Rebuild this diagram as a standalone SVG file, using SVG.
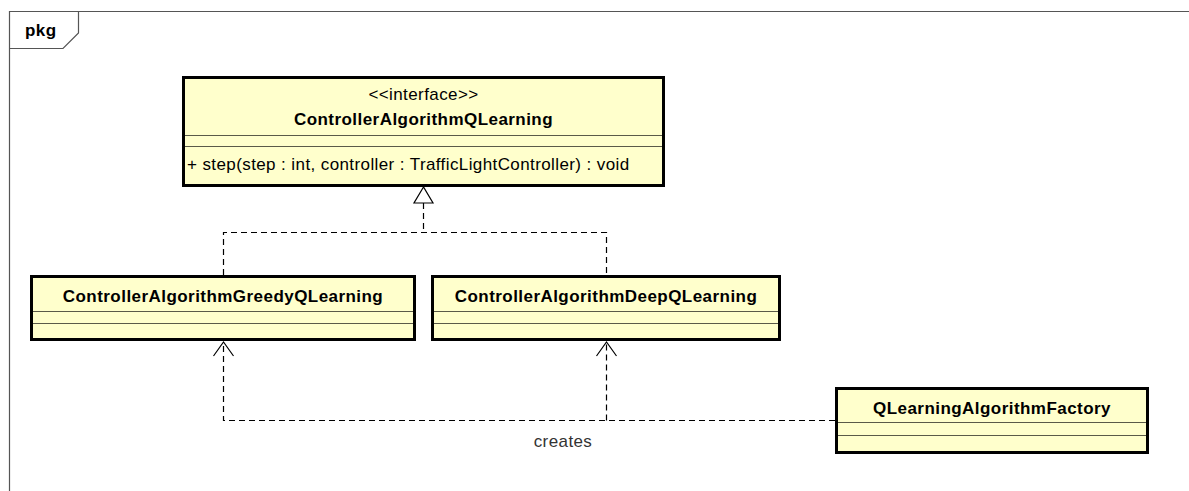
<svg xmlns="http://www.w3.org/2000/svg" width="1189" height="491" viewBox="0 0 1189 491">
  <style>
    .frame { fill: none; stroke: #555555; stroke-width: 1.2; }
    .cls { fill: #FFFFCC; stroke: #000000; stroke-width: 3; }
    .div { stroke: #5a5a48; stroke-width: 1; }
    .name { font-family: "Liberation Sans", Arial, sans-serif; font-size: 17px; font-weight: bold; fill: #000; text-anchor: middle; letter-spacing: 0.45px; }
    .txt { font-family: "Liberation Sans", Arial, sans-serif; font-size: 17px; fill: #000; letter-spacing: 0.4px; }
    .dash { fill: none; stroke: #000; stroke-width: 1.2; stroke-dasharray: 6 4; }
    .head { fill: none; stroke: #000; stroke-width: 1.2; }
  </style>
  <rect width="1189" height="491" fill="#ffffff"/>

  <!-- package frame -->
  <g id="pkg">
    <path class="frame" d="M9.5 1200 V11.5 H1200"/>
    <path class="frame" d="M9.5 48.5 H63 L78.5 33 V11.5"/>
    <text x="25" y="36" class="name" style="text-anchor:start">pkg</text>
  </g>

  <!-- connectors -->
  <g id="connectors">
    <!-- realization to the interface -->
    <path class="dash" d="M423.5 203 V232.5 M223.5 275 V232.5 H606.5 V275"/>
    <polygon points="423.5,187 414,203 433,203" fill="#ffffff" stroke="#000" stroke-width="1.2"/>
    <!-- dependencies from the factory -->
    <path class="dash" d="M835 420.5 H223.5 V343"/>
    <path class="dash" d="M606.5 420.5 V343"/>
    <path class="head" d="M213.5 356 L223.5 342 L233.5 356"/>
    <path class="head" d="M596.5 356 L606.5 342 L616.5 356"/>
    <text x="563" y="447" class="txt" style="text-anchor:middle; fill:#333">creates</text>
  </g>

  <!-- interface -->
  <g id="ControllerAlgorithmQLearning">
    <rect class="cls" x="183.5" y="77.5" width="480" height="108"/>
    <text x="423.5" y="100" class="txt" style="text-anchor:middle">&lt;&lt;interface&gt;&gt;</text>
    <text x="423.5" y="125" class="name">ControllerAlgorithmQLearning</text>
    <line class="div" x1="185" y1="135.5" x2="662" y2="135.5"/>
    <line class="div" x1="185" y1="146.5" x2="662" y2="146.5"/>
    <text x="187" y="170" class="txt">+ step(step : int, controller : TrafficLightController) : void</text>
  </g>

  <g id="ControllerAlgorithmGreedyQLearning">
    <rect class="cls" x="31.5" y="276.5" width="383" height="63"/>
    <text x="223" y="301.5" class="name">ControllerAlgorithmGreedyQLearning</text>
    <line class="div" x1="33" y1="311.5" x2="413" y2="311.5"/>
    <line class="div" x1="33" y1="323.5" x2="413" y2="323.5"/>
  </g>

  <g id="ControllerAlgorithmDeepQLearning">
    <rect class="cls" x="432.5" y="276.5" width="347" height="63"/>
    <text x="606" y="301.5" class="name">ControllerAlgorithmDeepQLearning</text>
    <line class="div" x1="434" y1="311.5" x2="778" y2="311.5"/>
    <line class="div" x1="434" y1="323.5" x2="778" y2="323.5"/>
  </g>

  <g id="QLearningAlgorithmFactory">
    <rect class="cls" x="836.5" y="388.5" width="311" height="64"/>
    <text x="992" y="414" class="name">QLearningAlgorithmFactory</text>
    <line class="div" x1="838" y1="422.5" x2="1146" y2="422.5"/>
    <line class="div" x1="838" y1="435.5" x2="1146" y2="435.5"/>
  </g>
</svg>
